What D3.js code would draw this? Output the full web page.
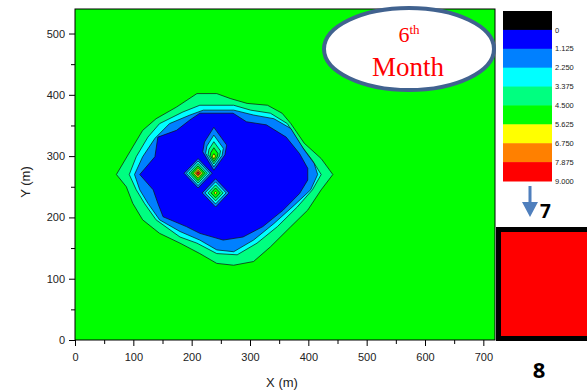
<!DOCTYPE html>
<html>
<head>
<meta charset="utf-8">
<script src="https://cdn.jsdelivr.net/npm/d3@7"></script>
<style>
  html, body { margin: 0; padding: 0; background: #fff; }
  svg { display: block; }
</style>
</head>
<body>
<svg id="chart" width="587" height="391"></svg>
<script>
// contour levels (legend)
const levelLabels = ['0', '1.125', '2.250', '3.375', '4.500', '5.625', '6.750', '7.875', '9.000'];
const levelColors = ['#000000', '#0000ff', '#0080ff', '#00ffff', '#00ff80', '#00ff00', '#ffff00', '#ff8000', '#ff0000'];
const backgroundLevel = 5;

// axis ticks
const xTicks = [0, 100, 200, 300, 400, 500, 600, 700];
const yTicks = [0, 100, 200, 300, 400, 500];
const xMinor = [50, 150, 250, 350, 450, 550, 650];
const yMinor = [50, 150, 250, 350, 450];

// main plume rings, outer to inner: [level, points in metres]
const plumeRings = [
    [4, [[71,270],[99,315],[116,342],[139,361],[174,380],[209,402],[243,402],[266,394],[295,386],[330,383],[355,370],[370,353],[393,321],[422,296],[442,270],[422,245],[399,212],[370,185],[335,152],[306,128],[272,122],[243,125],[214,141],[180,158],[145,174],[116,196],[99,223],[88,250]]],
    [3, [[93,270],[105,299],[125,331],[145,353],[185,372],[214,383],[272,383],[301,375],[335,370],[364,353],[387,318],[407,293],[422,270],[407,245],[381,217],[347,185],[312,158],[278,139],[243,141],[209,158],[180,168],[139,196],[119,223],[105,245]]],
    [2, [[102,270],[116,299],[137,329],[162,353],[197,367],[220,375],[272,375],[306,367],[341,361],[370,345],[393,310],[410,288],[416,270],[404,245],[376,220],[341,190],[306,163],[272,144],[243,147],[214,163],[180,177],[145,196],[125,223],[111,245]]],
    [1, [[111,270],[137,299],[142,331],[174,342],[197,359],[214,370],[271,370],[294,356],[328,351],[362,331],[385,304],[399,280],[399,261],[385,239],[357,212],[322,185],[288,168],[254,163],[214,174],[191,185],[151,201],[142,223],[134,245]]]
];

// small peaks inside the plume
const tearOutline = [[238,347],[260,318],[257,302],[238,277],[219,307],[222,323]];
const tearCenter = [238, 298];
const tearLevels = [2, 3, 4, 5, 6];
const tearScales = [1, 0.74, 0.52, 0.32, 0.12];

const diamondCenters = [[211, 272], [241, 240]];
const diamondLevels = [[2, 3, 4, 5, 6, 7, 8], [2, 3, 4, 5, 6]];
const diamondRadii = [[24, 20, 16, 12, 8, 5, 2.5], [23, 18, 13, 8, 2.5]];

const svg = d3.select('#chart');
const margin = { left: 75, right: 92, top: 9, bottom: 51 };
const width = 587, height = 391;

const x = d3.scaleLinear().domain([0, 720]).range([margin.left, width - margin.right]);
const y = d3.scaleLinear().domain([0, 540]).range([height - margin.bottom, margin.top]);

svg.append('defs').append('clipPath').attr('id', 'plot-clip')
    .append('rect')
    .attr('x', x(0)).attr('y', y(540))
    .attr('width', x(720) - x(0)).attr('height', y(0) - y(540));

const plot = svg.append('g').attr('clip-path', 'url(#plot-clip)');

plot.append('rect')
    .attr('x', x(0)).attr('y', y(540))
    .attr('width', x(720) - x(0)).attr('height', y(0) - y(540))
    .attr('fill', levelColors[backgroundLevel]);

const line = d3.line().x(d => x(d[0])).y(d => y(d[1])).curve(d3.curveLinearClosed);

function drawRing(level, pts) {
    plot.append('path')
        .attr('d', line(pts))
        .attr('fill', levelColors[level])
        .attr('stroke', '#111')
        .attr('stroke-width', 0.7)
        .attr('stroke-linejoin', 'round');
}

plumeRings.forEach(([level, pts]) => drawRing(level, pts));

// teardrop peak
tearLevels.forEach((level, i) => {
    const s = tearScales[i];
    const pts = tearOutline.map(p => [tearCenter[0] + (p[0] - tearCenter[0]) * s,
                                      tearCenter[1] + (p[1] - tearCenter[1]) * s]);
    drawRing(level, pts);
});

// diamond peaks
diamondCenters.forEach((c, k) => {
    diamondLevels[k].forEach((level, i) => {
        const r = diamondRadii[k][i];
        drawRing(level, [[c[0] - r, c[1]], [c[0], c[1] + r], [c[0] + r, c[1]], [c[0], c[1] - r]]);
    });
});

// plot frame
svg.append('rect')
    .attr('x', x(0)).attr('y', y(540))
    .attr('width', x(720) - x(0)).attr('height', y(0) - y(540))
    .attr('fill', 'none').attr('stroke', '#000').attr('stroke-width', 1);

// axes
const font = 'Liberation Sans, Arial, sans-serif';

function styleAxis(g) {
    g.select('.domain').remove();
    g.selectAll('line').attr('stroke', '#000');
    g.selectAll('text').attr('font-family', font).attr('font-size', '11px').attr('fill', '#222');
}

svg.append('g').attr('transform', `translate(0,${y(0)})`)
    .call(d3.axisBottom(x).tickValues(xTicks).tickSize(6).tickPadding(7))
    .call(styleAxis);
svg.append('g').attr('transform', `translate(0,${y(0)})`)
    .call(d3.axisBottom(x).tickValues(xMinor).tickSize(4).tickFormat(''))
    .call(styleAxis);
svg.append('g').attr('transform', `translate(${x(0)},0)`)
    .call(d3.axisLeft(y).tickValues(yTicks).tickSize(6).tickPadding(4))
    .call(styleAxis);
svg.append('g').attr('transform', `translate(${x(0)},0)`)
    .call(d3.axisLeft(y).tickValues(yMinor).tickSize(4).tickFormat(''))
    .call(styleAxis);

svg.append('text')
    .attr('x', x(360) - 3).attr('y', 387)
    .attr('text-anchor', 'middle')
    .attr('font-family', font).attr('font-size', '13px').attr('fill', '#222')
    .text('X (m)');

svg.append('text')
    .attr('transform', `translate(30,182) rotate(-90)`)
    .attr('text-anchor', 'middle')
    .attr('font-family', font).attr('font-size', '13px').attr('fill', '#222')
    .text('Y (m)');

// month badge
const badge = svg.append('g');
badge.append('ellipse')
    .attr('cx', 409).attr('cy', 49).attr('rx', 85).attr('ry', 41)
    .attr('fill', '#fff').attr('stroke', '#41628f').attr('stroke-width', 4);
const t1 = badge.append('text')
    .attr('x', 409).attr('y', 42)
    .attr('text-anchor', 'middle')
    .attr('font-family', 'Liberation Serif, Times New Roman, serif')
    .attr('fill', '#ff0000');
t1.append('tspan').attr('font-size', '22px').text('6');
t1.append('tspan').attr('font-size', '13px').attr('dy', -8).text('th');
badge.append('text')
    .attr('x', 408).attr('y', 76)
    .attr('text-anchor', 'middle')
    .attr('font-family', 'Liberation Serif, Times New Roman, serif')
    .attr('font-size', '27px')
    .attr('fill', '#ff0000')
    .text('Month');

// colour bar legend
const legendY = d3.scaleBand().domain(d3.range(levelColors.length)).range([11, 181]);
const legend = svg.append('g');
legend.selectAll('rect')
    .data(levelColors)
    .join('rect')
    .attr('x', 503)
    .attr('y', (d, i) => legendY(i))
    .attr('width', 49)
    .attr('height', legendY.bandwidth() + 0.5)
    .attr('fill', d => d);
legend.selectAll('text')
    .data(levelLabels)
    .join('text')
    .attr('x', 555)
    .attr('y', (d, i) => legendY(i) + legendY.bandwidth())
    .attr('dy', '0.35em')
    .attr('font-family', font)
    .attr('font-size', '7.5px')
    .attr('fill', '#222')
    .text(d => d);

// arrow to next panel
svg.append('rect').attr('x', 528.5).attr('y', 186).attr('width', 3).attr('height', 17).attr('fill', '#4f7fbd');
svg.append('path').attr('d', 'M522,202 L538,202 L530,217 Z').attr('fill', '#4f7fbd');
svg.append('text')
    .attr('x', 540).attr('y', 218)
    .attr('font-family', 'Open Sans, Liberation Sans, sans-serif')
    .attr('font-weight', 'bold').attr('font-size', '19px').attr('fill', '#000')
    .text('7');

// next panel preview
svg.append('rect')
    .attr('x', 498.5).attr('y', 229.5).attr('width', 100).attr('height', 109)
    .attr('fill', '#ff0000').attr('stroke', '#000').attr('stroke-width', 5);
svg.append('text')
    .attr('x', 539).attr('y', 378)
    .attr('text-anchor', 'middle')
    .attr('font-family', 'Open Sans, Liberation Sans, sans-serif')
    .attr('font-weight', 'bold').attr('font-size', '22px').attr('fill', '#000')
    .text('8');
</script>
</body>
</html>
